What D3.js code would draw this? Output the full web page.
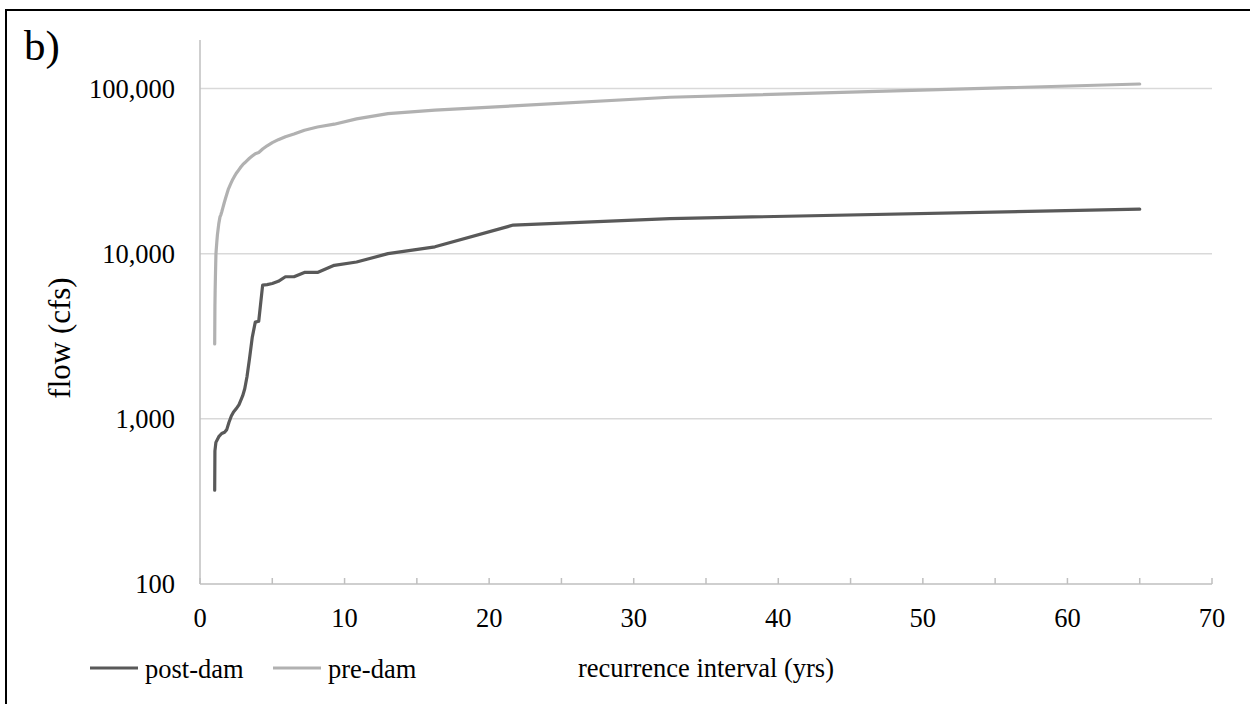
<!DOCTYPE html>
<html>
<head>
<meta charset="utf-8">
<script src="https://cdn.jsdelivr.net/npm/d3@7"></script>
<style>
  html, body { margin: 0; padding: 0; background: #fff; }
  svg { display: block; }
  text { font-family: "Liberation Serif", "Times New Roman", serif; fill: #000; }
</style>
</head>
<body>
<svg id="chart" width="1250" height="704"></svg>
<script>
// ---- data ----
const postDamRI = [1.016, 1.032, 1.1, 1.3, 1.5, 1.7, 1.85, 2.0, 2.167, 2.32, 2.5, 2.7, 2.955, 3.095, 3.25, 3.421, 3.611, 3.824, 4.0625, 4.333, 4.643, 5.0, 5.417, 5.909, 6.5, 7.222, 8.125, 9.286, 10.83, 13, 16.25, 21.67, 32.5, 65];
const postDamFlow = [370, 640, 720, 780, 815, 830, 860, 950, 1040, 1100, 1150, 1220, 1380, 1520, 1800, 2300, 3100, 3850, 3900, 6450, 6500, 6600, 6800, 7250, 7250, 7700, 7700, 8500, 8900, 10000, 11000, 14900, 16300, 18600];

const preDamRI = [1.016, 1.032, 1.048, 1.066, 1.083, 1.102, 1.121, 1.161, 1.204, 1.25, 1.3, 1.383, 1.444, 1.512, 1.585, 1.667, 1.757, 1.857, 1.97, 2.031, 2.097, 2.167, 2.241, 2.321, 2.407, 2.5, 2.6, 2.708, 2.826, 2.955, 3.095, 3.25, 3.421, 3.611, 3.824, 4.0625, 4.333, 4.643, 5.0, 5.417, 5.909, 6.5, 7.222, 8.125, 9.286, 10.83, 13, 16.25, 21.67, 32.5, 65];
const preDamFlow = [2840, 4800, 6000, 7200, 8400, 9900, 10500, 11700, 13000, 14000, 15200, 16700, 17200, 18000, 19000, 20200, 21500, 23000, 24700, 25400, 26200, 27000, 27900, 28700, 29600, 30600, 31400, 32400, 33500, 34600, 35500, 36600, 37800, 39000, 40300, 41000, 43000, 45000, 47000, 49000, 51100, 53000, 55900, 58500, 60800, 65500, 70500, 74000, 78500, 88500, 106500];

const xTickValues = [0, 10, 20, 30, 40, 50, 60, 70];
const xMinorTicks = [5, 15, 25, 35, 45, 55, 65];
const yTickValues = [100, 1000, 10000, 100000];
const yTickLabels = ["100", "1,000", "10,000", "100,000"];
const seriesNames = ["post-dam", "pre-dam"];
const seriesColors = ["#595959", "#b1b1b1"];

// ---- layout ----
const svg = d3.select("#chart");
const x = d3.scaleLinear().domain([0, 70]).range([200, 1212]);
const y = d3.scaleLog().domain([100, 100000]).range([584, 88.5]);
const plotTop = 40;

// frame
svg.append("line").attr("x1", 6).attr("x2", 1250).attr("y1", 10).attr("y2", 10)
  .attr("stroke", "#000").attr("stroke-width", 2);
svg.append("line").attr("x1", 6).attr("x2", 6).attr("y1", 9).attr("y2", 704)
  .attr("stroke", "#000").attr("stroke-width", 2);

// gridlines
svg.append("g").selectAll("line").data(yTickValues.slice(1)).join("line")
  .attr("x1", x(0)).attr("x2", x(70))
  .attr("y1", d => y(d)).attr("y2", d => y(d))
  .attr("stroke", "#d9d9d9").attr("stroke-width", 1.5);

// axes lines
svg.append("line").attr("x1", x(0)).attr("x2", x(0)).attr("y1", plotTop).attr("y2", y(100))
  .attr("stroke", "#bfbfbf").attr("stroke-width", 1.5);
svg.append("line").attr("x1", x(0)).attr("x2", x(70)).attr("y1", y(100)).attr("y2", y(100))
  .attr("stroke", "#bfbfbf").attr("stroke-width", 1.5);

// x ticks (upward)
svg.append("g").selectAll("line").data(xTickValues.concat(xMinorTicks)).join("line")
  .attr("x1", d => x(d)).attr("x2", d => x(d))
  .attr("y1", y(100)).attr("y2", y(100) - 6)
  .attr("stroke", "#bfbfbf").attr("stroke-width", 1.5);

// x tick labels
svg.append("g").selectAll("text").data(xTickValues).join("text")
  .attr("x", d => x(d)).attr("y", 627)
  .attr("text-anchor", "middle").attr("font-size", 26.5)
  .text(d => d);

// y tick labels
svg.append("g").selectAll("text").data(yTickValues).join("text")
  .attr("x", 175).attr("y", d => y(d))
  .attr("dy", "0.35em")
  .attr("text-anchor", "end").attr("font-size", 26.5)
  .text((d, i) => yTickLabels[i]);

// lines
const line = d3.line().x(d => x(d[0])).y(d => y(d[1]));
const postData = postDamRI.map((r, i) => [r, postDamFlow[i]]);
const preData = preDamRI.map((r, i) => [r, preDamFlow[i]]);

svg.append("path").datum(preData).attr("d", line)
  .attr("fill", "none").attr("stroke", seriesColors[1]).attr("stroke-width", 3.2)
  .attr("stroke-linejoin", "round").attr("stroke-linecap", "round");
svg.append("path").datum(postData).attr("d", line)
  .attr("fill", "none").attr("stroke", seriesColors[0]).attr("stroke-width", 3.2)
  .attr("stroke-linejoin", "round").attr("stroke-linecap", "round");

// panel label
svg.append("text").attr("x", 24).attr("y", 60).attr("font-size", 43).text("b)");

// axis titles
svg.append("text").attr("x", 706).attr("y", 677).attr("text-anchor", "middle")
  .attr("font-size", 26.5).text("recurrence interval (yrs)");
svg.append("text").attr("transform", "translate(70,338) rotate(-90)")
  .attr("text-anchor", "middle").attr("font-size", 31).text("flow (cfs)");

// legend
const legendX = [90, 273];
const legend = svg.append("g").selectAll("g").data(seriesNames).join("g")
  .attr("transform", (d, i) => `translate(${legendX[i]},668)`);
legend.append("line").attr("x1", 0).attr("x2", 48).attr("y1", 0).attr("y2", 0)
  .attr("stroke", (d, i) => seriesColors[i]).attr("stroke-width", 3.2);
legend.append("text").attr("x", 55).attr("y", 10).attr("font-size", 26.5).text(d => d);
</script>
</body>
</html>
